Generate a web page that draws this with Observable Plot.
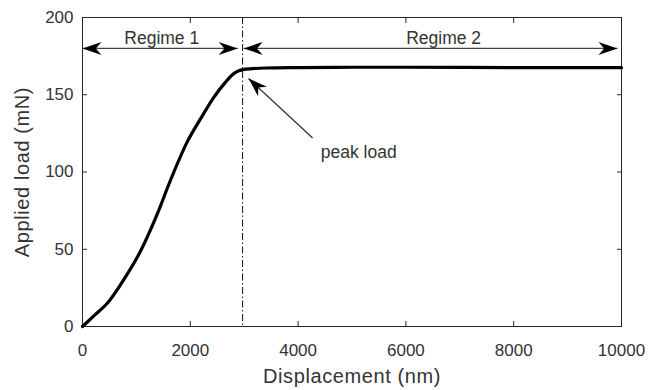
<!DOCTYPE html>
<html>
<head>
<meta charset="utf-8">
<script src="https://cdn.jsdelivr.net/npm/d3@7"></script>
<script src="https://cdn.jsdelivr.net/npm/@observablehq/plot@0.6"></script>
<style>
  html, body { margin: 0; padding: 0; background: #fff; }
  #chart svg { display: block; }
</style>
</head>
<body>
<div id="chart"></div>
<script>
// ---- data ----
const displacement = [0, 230, 460, 760, 1080, 1390, 1630, 1950, 2200, 2430, 2650, 2800, 2900, 2970, 3150, 3400, 4000, 5000, 6000, 8000, 10000];
const load         = [0, 7.5, 15, 30, 49, 73, 94.5, 120, 135, 148, 158, 163.5, 165.5, 166.3, 166.9, 167.3, 167.6, 167.8, 167.8, 167.6, 167.5];

const xTicks = [0, 2000, 4000, 6000, 8000, 10000];
const yTicks = [0, 50, 100, 150, 200];

const peakX = [2970];

const regimeLabels = ["Regime 1", "Regime 2"];
const regimeStart  = [0, 2990];
const regimeEnd    = [2880, 9925];
const regimeLevel  = [180, 180];
const regimeLabelX = [1470, 6700];
const regimeLabelY = [186.5, 186.5];

const peakLabel = ["peak load"];
const peakArrowFrom = [4270, 122];
const peakArrowTo   = [3080, 160.5];
const peakLabelPos  = [4420, 113];

const xLabel = "Displacement (nm)";
const yLabel = "Applied load (mN)";

// ---- build ----
const curve = displacement.map((x, i) => ({x, y: load[i]}));
const regimes = regimeLabels.map((label, i) => ({
  label, x1: regimeStart[i], x2: regimeEnd[i], y: regimeLevel[i],
  lx: regimeLabelX[i], ly: regimeLabelY[i]
}));
const heads = [];
regimes.forEach(r => {
  heads.push({x: r.x1, y: r.y, rotate: 180});
  heads.push({x: r.x2, y: r.y, rotate: 0});
});
heads.push({x: peakArrowTo[0], y: peakArrowTo[1], rotate: -137.3});

// filled, concave-back arrow head, tip at origin, pointing right
const arrowHead = {
  draw(ctx) {
    const L = 19, W = 6.5;
    ctx.moveTo(0, 0);
    ctx.lineTo(-L, -W);
    ctx.lineTo(-0.7 * L, 0);
    ctx.lineTo(-L, W);
    ctx.closePath();
  }
};

const ink = "#333";

const chart = Plot.plot({
  width: 648,
  height: 390,
  marginLeft: 82,
  marginRight: 27,
  marginTop: 17,
  marginBottom: 64,
  style: {fontFamily: "'Liberation Sans', Arial, Helvetica, sans-serif", fontSize: "17px", color: ink, background: "#fff"},
  x: {domain: [0, 10000]},
  y: {domain: [0, 200]},
  marks: [
    Plot.axisX({ticks: xTicks, tickSize: -5, tickPadding: 22, tickFormat: d => String(d), label: null, stroke: "#262626"}),
    Plot.axisX({anchor: "top", ticks: xTicks, tickSize: -5, tickFormat: () => "", label: null, stroke: "#262626"}),
    Plot.axisY({ticks: yTicks, tickSize: -5, tickPadding: 14, tickFormat: d => String(d), label: null, stroke: "#262626"}),
    Plot.axisY({anchor: "right", ticks: yTicks, tickSize: -5, tickFormat: () => "", label: null, stroke: "#262626"}),
    Plot.frame({stroke: "#262626", strokeWidth: 1}),
    Plot.ruleX(peakX, {stroke: "#111", strokeWidth: 1, strokeDasharray: "7,2.5,1.5,2.5"}),
    Plot.line(curve, {x: "x", y: "y", stroke: "#000", strokeWidth: 3.2, curve: "monotone-x"}),
    Plot.link(regimes, {x1: "x1", x2: "x2", y1: "y", y2: "y", stroke: "#444", strokeWidth: 1.1}),
    Plot.link([0], {x1: () => peakArrowFrom[0], y1: () => peakArrowFrom[1], x2: () => peakArrowTo[0], y2: () => peakArrowTo[1], stroke: "#333", strokeWidth: 1.3}),
    Plot.dot(heads, {x: "x", y: "y", rotate: "rotate", symbol: arrowHead, r: 5, fill: "#000", stroke: "none"}),
    Plot.text(regimes, {x: "lx", y: "ly", text: "label", fontSize: 17.5, fill: ink}),
    Plot.text(peakLabel, {x: () => peakLabelPos[0], y: () => peakLabelPos[1], text: d => d, textAnchor: "start", fontSize: 17.5, fill: ink}),
    Plot.text([xLabel], {frameAnchor: "bottom", dy: 56, text: d => d, textAnchor: "middle", fontSize: 20, fill: ink}),
    Plot.text([yLabel], {frameAnchor: "left", dx: -60, rotate: -90, text: d => d, textAnchor: "middle", lineAnchor: "middle", fontSize: 20, fill: ink})
  ]
});
document.getElementById("chart").append(chart);
// slight tracking on the axis titles like the reference
chart.querySelectorAll("text").forEach(t => {
  if (t.textContent === xLabel || t.textContent === yLabel) t.setAttribute("letter-spacing", "0.6");
});
</script>
</body>
</html>
